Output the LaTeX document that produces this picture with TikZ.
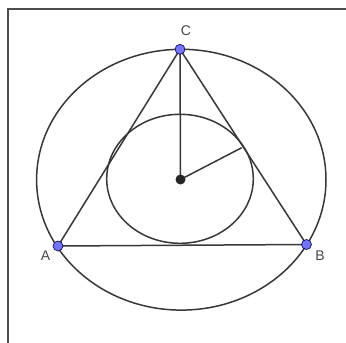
\documentclass[tikz,border=0pt]{standalone}
\usepackage{fontspec}
\setmainfont{Liberation Sans}
\begin{document}
\begin{tikzpicture}[x=1pt,y=-1pt,
  geo/.style={draw=black!78,line width=1.5pt},
  frameline/.style={draw=black!70,line width=2pt},
  vpt/.style={circle,fill=blue!55!white,draw=blue!25!black,line width=0.6pt,inner sep=0pt,minimum size=10pt},
  cpt/.style={circle,fill=black!85,inner sep=0pt,minimum size=10pt},
  lbl/.style={font=\fontsize{14}{16}\selectfont,text=black!72}]
\useasboundingbox (0,0) rectangle (346,343);
\fill[white] (0,0) rectangle (346,343);
\coordinate (fbl) at (7.5,343);
\coordinate (ftl) at (7.5,8.5);
\coordinate (ftr) at (346,8.5);
\draw[frameline] (fbl) -- (ftl) -- (ftr);
\coordinate (O) at (180.5,179.5);
\draw[geo] (181.3,179.7) ellipse [x radius=144.7, y radius=130.4];
\draw[geo] (180,178.8) ellipse [x radius=73.3, y radius=64.5];
\coordinate (Cc) at (180,49.3);
\coordinate (Ac) at (58,246);
\coordinate (Bc) at (306.5,244.5);
\coordinate (T) at (241.7,147.7);
\draw[geo] (Ac) -- (Bc) -- (Cc) -- cycle;
\draw[geo] (Cc) -- (O);
\draw[geo] (O) -- (T);
\node[cpt] (Odot) at (O) {};
\node[vpt] (A) at (Ac) {};
\node[vpt] (B) at (Bc) {};
\node[vpt] (C) at (Cc) {};
\node[lbl] (la) at (45.5,256) {A};
\node[lbl] (lb) at (320,256) {B};
\node[lbl] (lc) at (186,31) {C};
\end{tikzpicture}
\end{document}
